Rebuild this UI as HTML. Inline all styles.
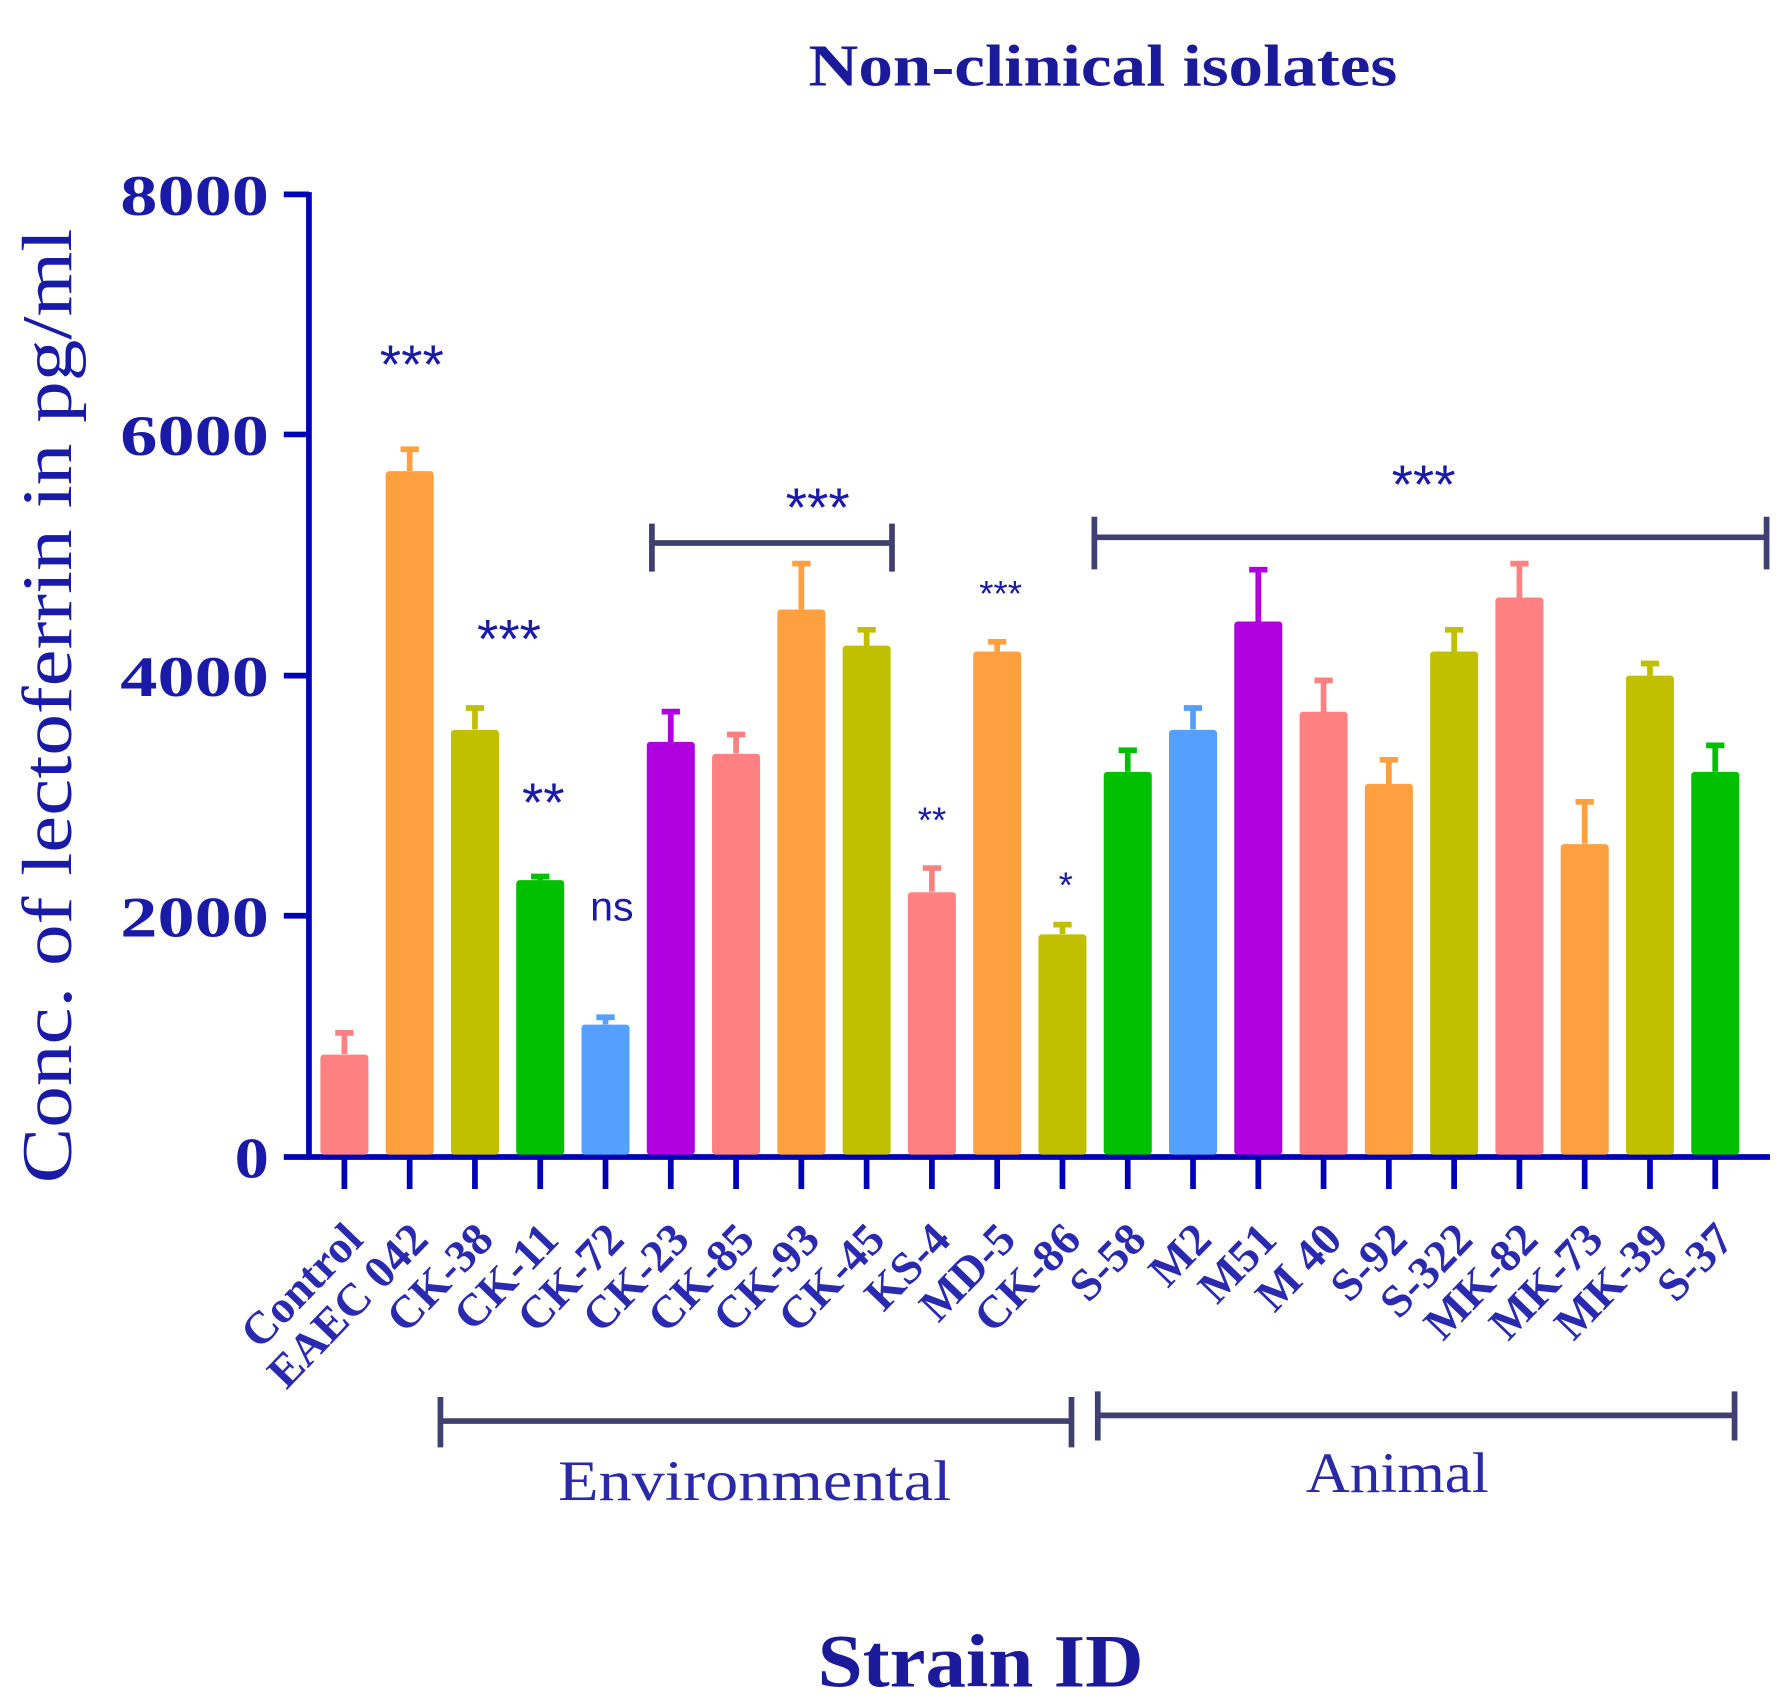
<!DOCTYPE html>
<html><head><style>html,body{margin:0;padding:0;background:#fff}svg{display:block}</style></head>
<body>
<svg width="1784" height="1700" viewBox="0 0 1560 1487" xmlns="http://www.w3.org/2000/svg" font-family="'Liberation Serif', serif">
<text x="707" y="75" textLength="515" lengthAdjust="spacingAndGlyphs" font-size="52" font-weight="bold" fill="#1a1a9a">Non-clinical isolates</text>
<text transform="translate(62,1035) rotate(-90)" textLength="835" lengthAdjust="spacingAndGlyphs" font-size="62" fill="#1a1aa8">Conc. of lectoferrin in pg/ml</text>
<g font-size="50" font-weight="bold" fill="#1a1aa8">
<text x="105" y="188" textLength="130" lengthAdjust="spacingAndGlyphs">8000</text>
<text x="105" y="398" textLength="130" lengthAdjust="spacingAndGlyphs">6000</text>
<text x="105" y="609" textLength="130" lengthAdjust="spacingAndGlyphs">4000</text>
<text x="105" y="819" textLength="130" lengthAdjust="spacingAndGlyphs">2000</text>
<text x="205" y="1030" textLength="30" lengthAdjust="spacingAndGlyphs">0</text>
</g>
<g stroke="#0000b8" stroke-width="5">
<line x1="270" y1="168" x2="270" y2="1014"/><line x1="268" y1="1012" x2="1548" y2="1012"/>
<line x1="248" y1="170" x2="270" y2="170"/><line x1="248" y1="380" x2="270" y2="380"/><line x1="248" y1="591" x2="270" y2="591"/><line x1="248" y1="801" x2="270" y2="801"/><line x1="248" y1="1012" x2="270" y2="1012"/>
</g>
<g stroke-width="5">
<g fill="#ff8080" stroke="#ff8080"><rect x="280" y="922.5" width="42" height="87.5" rx="3" stroke="none"/><path d="M301 922V901.5M293 903.5H309"/></g>
<g fill="#ffa040" stroke="#ffa040"><rect x="337.1" y="412.1" width="42" height="597.9" rx="3" stroke="none"/><path d="M358.1 412V391M350.1 393H366.1"/></g>
<g fill="#c0c000" stroke="#c0c000"><rect x="394.2" y="638.4" width="42" height="371.6" rx="3" stroke="none"/><path d="M415.2 638V617.3M407.2 619.3H423.2"/></g>
<g fill="#00c000" stroke="#00c000"><rect x="451.3" y="769.9" width="42" height="240.1" rx="3" stroke="none"/><path d="M472.3 770V764.7M464.3 766.7H480.3"/></g>
<g fill="#55a0ff" stroke="#55a0ff"><rect x="508.4" y="896.2" width="42" height="113.8" rx="3" stroke="none"/><path d="M529.4 896V887.8M521.4 889.8H537.4"/></g>
<g fill="#b000e0" stroke="#b000e0"><rect x="565.5" y="648.9" width="42" height="361.1" rx="3" stroke="none"/><path d="M586.5 649V620.5M578.5 622.5H594.5"/></g>
<g fill="#ff8080" stroke="#ff8080"><rect x="622.6" y="659.4" width="42" height="350.6" rx="3" stroke="none"/><path d="M643.6 659V640.5M635.6 642.5H651.6"/></g>
<g fill="#ffa040" stroke="#ffa040"><rect x="679.7" y="533.1" width="42" height="476.9" rx="3" stroke="none"/><path d="M700.7 533V491M692.7 493H708.7"/></g>
<g fill="#c0c000" stroke="#c0c000"><rect x="736.8" y="564.7" width="42" height="445.3" rx="3" stroke="none"/><path d="M757.8 565V548.9M749.8 550.9H765.8"/></g>
<g fill="#ff8080" stroke="#ff8080"><rect x="793.9" y="780.5" width="42" height="229.5" rx="3" stroke="none"/><path d="M814.9 780V757.3M806.9 759.3H822.9"/></g>
<g fill="#ffa040" stroke="#ffa040"><rect x="851" y="569.9" width="42" height="440.1" rx="3" stroke="none"/><path d="M872 570V559.4M864 561.4H880"/></g>
<g fill="#c0c000" stroke="#c0c000"><rect x="908.1" y="817.3" width="42" height="192.7" rx="3" stroke="none"/><path d="M929.1 817V806.8M921.1 808.8H937.1"/></g>
<g fill="#00c000" stroke="#00c000"><rect x="965.2" y="675.2" width="42" height="334.8" rx="3" stroke="none"/><path d="M986.2 675V654.2M978.2 656.2H994.2"/></g>
<g fill="#55a0ff" stroke="#55a0ff"><rect x="1022.3" y="638.4" width="42" height="371.6" rx="3" stroke="none"/><path d="M1043.3 638V617.3M1035.3 619.3H1051.3"/></g>
<g fill="#b000e0" stroke="#b000e0"><rect x="1079.4" y="543.6" width="42" height="466.4" rx="3" stroke="none"/><path d="M1100.4 544V496.3M1092.4 498.3H1108.4"/></g>
<g fill="#ff8080" stroke="#ff8080"><rect x="1136.5" y="622.6" width="42" height="387.4" rx="3" stroke="none"/><path d="M1157.5 623V593.1M1149.5 595.1H1165.5"/></g>
<g fill="#ffa040" stroke="#ffa040"><rect x="1193.6" y="685.7" width="42" height="324.3" rx="3" stroke="none"/><path d="M1214.6 686V662.6M1206.6 664.6H1222.6"/></g>
<g fill="#c0c000" stroke="#c0c000"><rect x="1250.7" y="569.9" width="42" height="440.1" rx="3" stroke="none"/><path d="M1271.7 570V548.9M1263.7 550.9H1279.7"/></g>
<g fill="#ff8080" stroke="#ff8080"><rect x="1307.8" y="522.6" width="42" height="487.4" rx="3" stroke="none"/><path d="M1328.8 523V491M1320.8 493H1336.8"/></g>
<g fill="#ffa040" stroke="#ffa040"><rect x="1364.9" y="738.4" width="42" height="271.6" rx="3" stroke="none"/><path d="M1385.9 738V699.4M1377.9 701.4H1393.9"/></g>
<g fill="#c0c000" stroke="#c0c000"><rect x="1422" y="591" width="42" height="419" rx="3" stroke="none"/><path d="M1443 591V578.4M1435 580.4H1451"/></g>
<g fill="#00c000" stroke="#00c000"><rect x="1479.1" y="675.2" width="42" height="334.8" rx="3" stroke="none"/><path d="M1500.1 675V650M1492.1 652H1508.1"/></g>
</g>
<path stroke="#0000b8" stroke-width="5" d="M301 1012V1040M358.1 1012V1040M415.2 1012V1040M472.3 1012V1040M529.4 1012V1040M586.5 1012V1040M643.6 1012V1040M700.7 1012V1040M757.8 1012V1040M814.9 1012V1040M872 1012V1040M929.1 1012V1040M986.2 1012V1040M1043.3 1012V1040M1100.4 1012V1040M1157.5 1012V1040M1214.6 1012V1040M1271.7 1012V1040M1328.8 1012V1040M1385.9 1012V1040M1443 1012V1040M1500.1 1012V1040"/>
<g stroke="#404070" stroke-width="5" fill="none">
<path d="M570 458V500M570 475H780M780 458V500"/>
<path d="M957 452V498M957 470H1545M1545 452V498"/>
<path d="M385 1222V1266M385 1243H937M937 1222V1266"/>
<path d="M960 1217V1260M960 1238H1517M1517 1217V1260"/>
</g>
<g fill="#1a1aa8" text-anchor="middle" font-family="'Liberation Sans', sans-serif">
<text x="360" y="335" font-size="48">***</text>
<text x="445" y="575" font-size="48">***</text>
<text x="475" y="718" font-size="48">**</text>
<text x="535" y="805" font-size="36">ns</text>
<text x="715" y="460" font-size="48">***</text>
<text x="875" y="530" font-size="32">***</text>
<text x="815" y="728" font-size="32">**</text>
<text x="932" y="785" font-size="32">*</text>
<text x="1245" y="440" font-size="48">***</text>
</g>
<text x="488" y="1312" textLength="344" lengthAdjust="spacingAndGlyphs" font-size="50" fill="#2a2aa8">Environmental</text>
<text x="1142" y="1305" textLength="160" lengthAdjust="spacingAndGlyphs" font-size="50" fill="#2a2aa8">Animal</text>
<text x="715" y="1475" textLength="285" lengthAdjust="spacingAndGlyphs" font-size="66" font-weight="bold" fill="#1a1a9a">Strain ID</text>
<g font-size="40" font-weight="bold" fill="#2a2ab0" text-anchor="end">
<text transform="translate(319,1086) rotate(-46)">Control</text>
<text transform="translate(376.1,1086) rotate(-46)">EAEC 042</text>
<text transform="translate(433.2,1086) rotate(-46)">CK-38</text>
<text transform="translate(490.3,1086) rotate(-46)">CK-11</text>
<text transform="translate(547.4,1086) rotate(-46)">CK-72</text>
<text transform="translate(604.5,1086) rotate(-46)">CK-23</text>
<text transform="translate(661.6,1086) rotate(-46)">CK-85</text>
<text transform="translate(718.7,1086) rotate(-46)">CK-93</text>
<text transform="translate(775.8,1086) rotate(-46)">CK-45</text>
<text transform="translate(832.9,1086) rotate(-46)">KS-4</text>
<text transform="translate(890,1086) rotate(-46)">MD-5</text>
<text transform="translate(947.1,1086) rotate(-46)">CK-86</text>
<text transform="translate(1004.2,1086) rotate(-46)">S-58</text>
<text transform="translate(1061.3,1086) rotate(-46)">M2</text>
<text transform="translate(1118.4,1086) rotate(-46)">M51</text>
<text transform="translate(1175.5,1086) rotate(-46)">M 40</text>
<text transform="translate(1232.6,1086) rotate(-46)">S-92</text>
<text transform="translate(1289.7,1086) rotate(-46)">S-322</text>
<text transform="translate(1346.8,1086) rotate(-46)">MK-82</text>
<text transform="translate(1403.9,1086) rotate(-46)">MK-73</text>
<text transform="translate(1461,1086) rotate(-46)">MK-39</text>
<text transform="translate(1518.1,1086) rotate(-46)">S-37</text>
</g>
</svg>
</body></html>
